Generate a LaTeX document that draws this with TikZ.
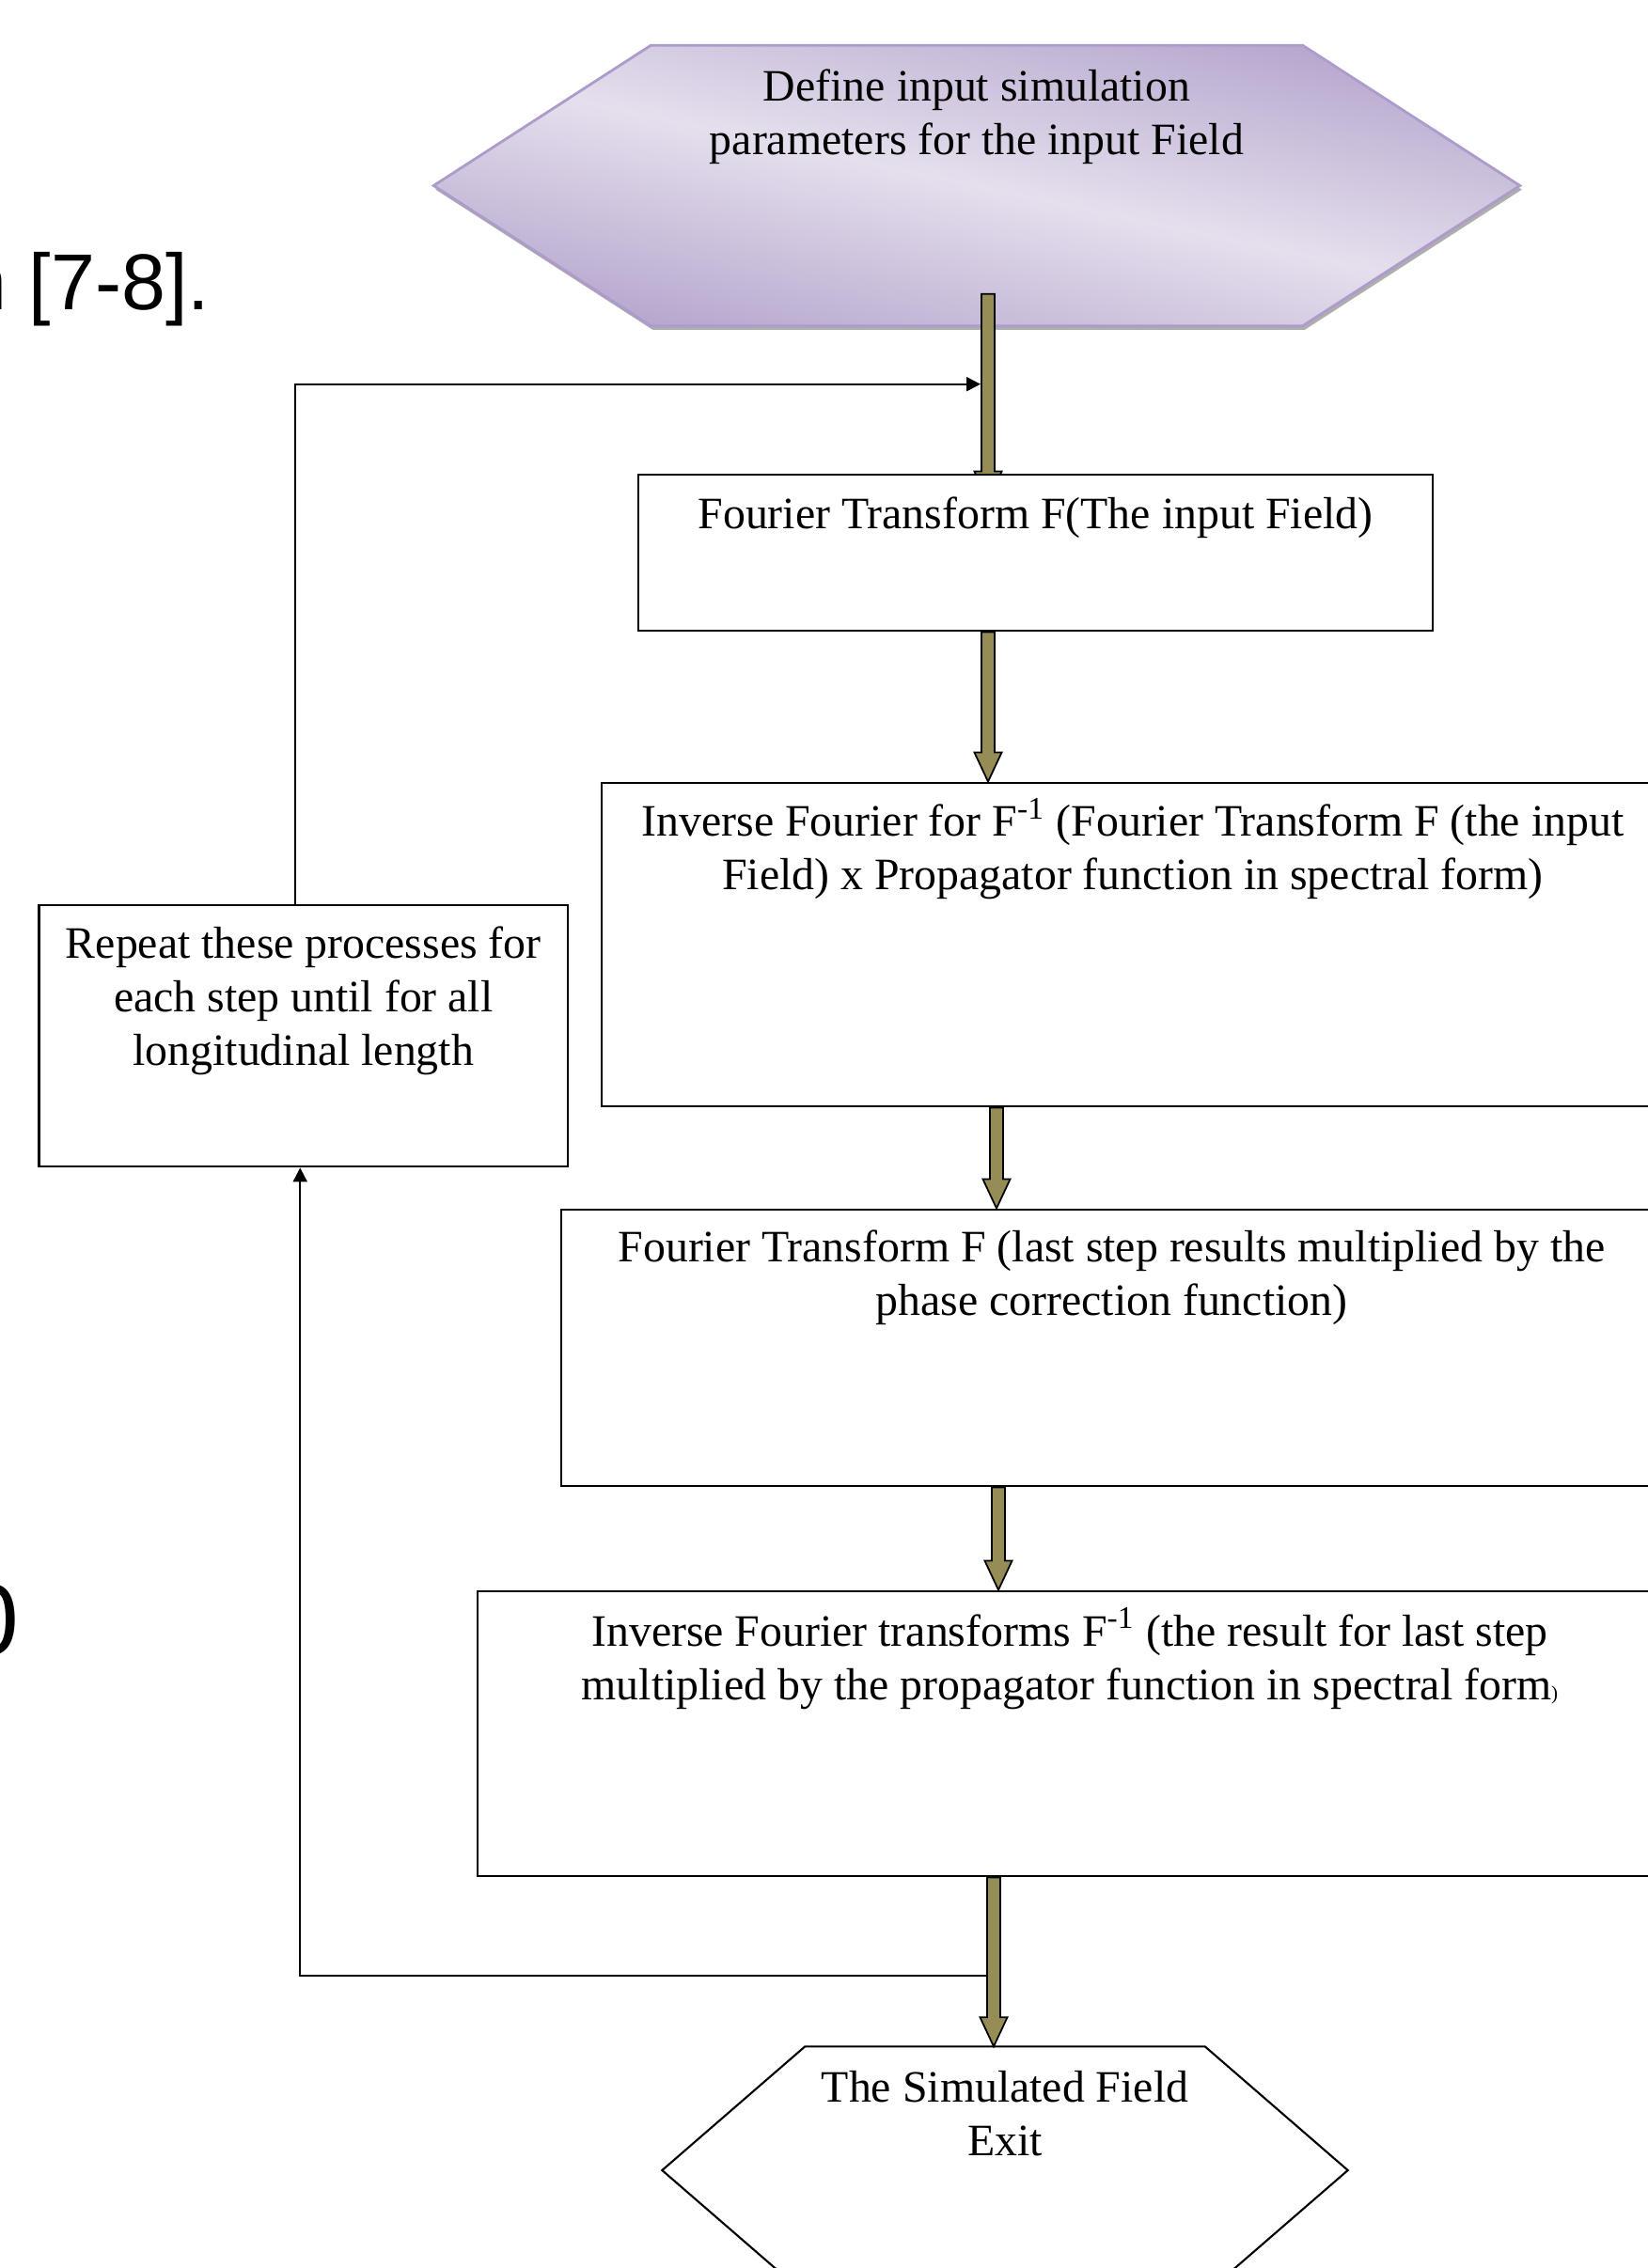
\documentclass[tikz,border=0pt]{standalone}
\usepackage{fontspec}
\setmainfont{Liberation Serif}
\newfontfamily\pagefont{Liberation Sans}
\usetikzlibrary{calc,arrows.meta,shadows}

\definecolor{olivearrow}{RGB}{150,140,85}
\definecolor{lavlight}{RGB}{229,223,237}
\definecolor{lavdark}{RGB}{181,166,205}
\definecolor{lavedge}{RGB}{172,155,203}

\newcommand{\flowfont}{\fontsize{13.6}{16.2}\selectfont}
% block arrow: start point, end point (the tip takes the x of the start)
\newcommand{\blockarrow}[2]{%
	\path (#1) coordinate (ba-s) (#2) coordinate (ba-e);
	\path (ba-s |- ba-e) coordinate (ba-t);
	\path[blockarrow] ($(ba-s)+(-0.07,0)$) -- ($(ba-t)+(-0.07,0.31)$) -- ($(ba-t)+(-0.145,0.31)$)
	-- (ba-t) -- ($(ba-t)+(0.145,0.31)$) -- ($(ba-t)+(0.07,0.31)$) -- ($(ba-s)+(0.07,0)$) -- cycle;}

\pgfdeclarelayer{bg}
\pgfsetlayers{bg,main}

\tikzset{
	box/.style={draw, line width=0.8pt, fill=white, inner sep=0pt},
	hex/.style={inner sep=0pt},
	boxtext/.style={anchor=center, font=\flowfont, align=center, inner sep=0pt},
	pagetext/.style={anchor=base west, inner sep=0pt},
	hexfill/.style={draw=lavedge, line width=0.8pt, top color=lavdark, bottom color=lavdark,
		middle color=lavlight, shading angle=-12,
		drop shadow={shadow xshift=0.6pt, shadow yshift=-1.2pt, fill=black!45, opacity=0.7}},
	exitline/.style={draw, line width=0.6pt},
	loopline/.style={draw, line width=0.6pt, -{Triangle[length=1.5mm,width=1.5mm]}},
	blockarrow/.style={draw, line width=0.5pt, fill=olivearrow},
}

\begin{document}
\begin{tikzpicture}
	\useasboundingbox (0,0) rectangle (17.53,-24.13);

	% bits of the page text behind
	\node[pagetext, font=\pagefont\fontsize{24}{28}\selectfont] (cite) at (-0.40,-3.29) {n [7-8].};
	\node[pagetext, font=\pagefont\fontsize{30.6}{36}\selectfont] (eqno) at (-0.40,-17.60) {0};

	% flow
	\node[hex, minimum width=11.54cm, minimum height=2.97cm,
		label={[boxtext, yshift=-0.76cm]north:{Define input simulation\\parameters for the input Field}}]
		(define) at (10.39,-1.975) {};
	\node[box, minimum width=8.45cm, minimum height=1.66cm,
		label={[boxtext, yshift=-0.475cm]north:{Fourier Transform F(The input Field)}}]
		(ft1) at (11.015,-5.88) {};
	\node[box, minimum width=11.30cm, minimum height=3.44cm,
		label={[boxtext, yshift=-0.715cm]north:{Inverse Fourier for F\textsuperscript{-1} (Fourier Transform F (the input\\Field) x Propagator function in spectral form)}}]
		(inv1) at (12.05,-10.05) {};
	\node[box, minimum width=11.71cm, minimum height=2.94cm,
		label={[boxtext, yshift=-0.74cm]north:{Fourier Transform F (last step results multiplied by the\\phase correction function)}}]
		(ft2) at (11.825,-14.34) {};
	\node[box, minimum width=12.60cm, minimum height=3.03cm,
		label={[boxtext, yshift=-0.73cm]north:{Inverse Fourier transforms F\textsuperscript{-1} (the result for last step\\multiplied by the propagator function in spectral form{\fontsize{6}{7}\selectfont)}}}]
		(inv2) at (11.38,-18.445) {};
	\node[hex, minimum width=7.28cm, minimum height=2.62cm,
		label={[boxtext, yshift=-0.71cm]north:{The Simulated Field\\Exit}}]
		(exit) at (10.69,-23.09) {};
	\node[box, minimum width=5.625cm, minimum height=2.78cm,
		label={[boxtext, yshift=-1.035cm]north:{Repeat these processes for\\each step until for all\\longitudinal length}}]
		(rep) at (3.2275,-11.02) {};

	\coordinate (jtop) at ($(define.south)+(0.04,-0.62)$);
	\coordinate (jbot) at ($(inv2.south)+(-0.88,-1.05)$);

	\begin{pgfonlayer}{bg}
		\path[hexfill] ($(define.north west)+(2.31,0)$) -- ($(define.north east)+(-2.31,0)$) -- (define.east)
			-- ($(define.south east)+(-2.31,0)$) -- ($(define.south west)+(2.31,0)$) -- (define.west) -- cycle;
		\blockarrow{$(define.south)+(0.12,0.34)$}{$(ft1.north)+(0,-0.29)$}
	\end{pgfonlayer}

	\path[exitline] ($(exit.north west)+(1.52,0)$) -- ($(exit.north east)+(-1.52,0)$) -- (exit.east)
		-- ($(exit.south east)+(-1.52,0)$) -- ($(exit.south west)+(1.52,0)$) -- (exit.west) -- cycle;

	% loop back
	\path[loopline] ($(rep.north)+(-0.085,0)$) |- (jtop);
	\path[loopline] (jbot) -| ($(rep.south)+(-0.035,0)$);

	\blockarrow{$(ft1.south)+(-0.505,0)$}{inv1.north}
	\blockarrow{$(inv1.south)+(-1.45,0)$}{ft2.north}
	\blockarrow{$(ft2.south)+(-1.205,0)$}{inv2.north}
	\blockarrow{$(inv2.south)+(-0.81,0)$}{exit.north}
\end{tikzpicture}
\end{document}
